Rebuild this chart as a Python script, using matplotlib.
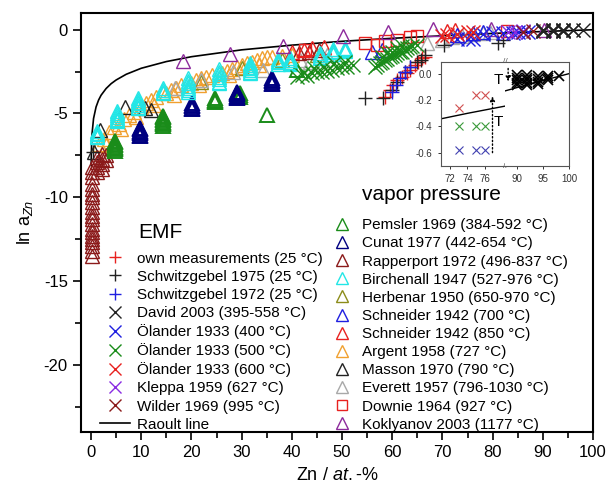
import matplotlib
matplotlib.use('Agg')
import matplotlib.pyplot as plt
from matplotlib.lines import Line2D

plt.rcParams['font.family'] = ['Liberation Sans', 'DejaVu Sans']
plt.rcParams['axes.unicode_minus'] = False
plt.rcParams['mathtext.fontset'] = 'custom'
plt.rcParams['mathtext.rm'] = 'Liberation Sans'
plt.rcParams['mathtext.it'] = 'Liberation Sans:italic'

# ---------------- data ----------------
raoult_x = [0.03, 0.05, 0.1, 0.2, 0.5, 1, 1.5, 2, 3, 4, 5, 7, 10, 15, 20, 30, 40, 50, 60, 70, 80, 90, 100]
raoult_y = [-8.11, -7.60, -6.91, -6.21, -5.30, -4.61, -4.20, -3.91, -3.51, -3.22, -3.00, -2.66, -2.30,
            -1.90, -1.61, -1.20, -0.92, -0.69, -0.51, -0.36, -0.22, -0.105, 0.0]

# EMF
own_x = [58.5, 59.5, 60.2, 61.0, 62.0, 62.9, 63.5, 64.5, 65.2, 65.9, 66.5]
own_y = [-4.0, -3.6, -3.3, -3.0, -2.8, -2.6, -2.4, -2.1, -1.9, -1.7, -1.6]
sch75_x = [0.3, 54.6, 58.2, 60.0, 61.0, 62.5, 63.5, 65.0, 65.7, 66.5, 70.4, 81.0, 82.0]
sch75_y = [-7.3, -4.1, -4.1, -3.6, -3.1, -2.5, -2.2, -1.9, -1.8, -1.5, -0.9, -0.8, -0.6]
sch72_x = [59.9, 60.7, 61.5, 62.5, 63.5]
sch72_y = [-3.7, -3.3, -2.9, -2.5, -2.2]
david_x = [90, 90, 90, 90, 92, 92, 92, 92, 94, 94, 94, 94, 96, 96, 98]
david_y = [-0.10, -0.07, -0.04, -0.01, -0.09, -0.06, -0.03, 0.0, -0.07, -0.05, -0.02, 0.0, -0.04, -0.02, -0.02]
ol400_x = [73, 75, 76, 78, 80, 82, 84, 85, 86, 87]
ol400_y = [-0.58, -0.58, -0.58, -0.25, -0.22, -0.2, -0.18, -0.16, -0.14, -0.12]
ol500_x = [41, 42, 43, 44, 45, 46, 47, 48, 49, 50, 51, 52.2, 42.5, 44.5, 46.5, 48.5, 50.5,
           56.5, 57, 57.5, 58, 58.5, 59, 59.5, 60, 60.5, 61, 61.5, 62, 62.5, 63, 63.5, 64, 65, 58, 59, 60, 61, 62]
ol500_y = [-2.8, -2.7, -2.75, -2.6, -2.55, -2.5, -2.45, -2.4, -2.3, -2.25, -2.2, -2.1, -2.5, -2.3, -2.2, -2.0, -1.9,
           -2.2, -2.1, -2.0, -1.9, -1.8, -1.75, -1.6, -1.55, -1.5, -1.4, -1.35, -1.3, -1.2, -1.1, -1.05, -1.0, -0.9,
           -1.6, -1.4, -1.3, -1.1, -1.0]
ol600_x = [70, 71, 73, 75, 76]
ol600_y = [-0.35, -0.3, -0.26, -0.16, -0.16]
kleppa_x = [83, 84.5, 86]
kleppa_y = [-0.15, -0.12, -0.1]
wilder_x = [86, 88]
wilder_y = [-0.12, -0.1]

# vapor pressure
pemsler_x = [4.8, 4.8, 4.8, 4.8, 4.8, 4.8, 4.8, 4.8, 14.4, 14.4, 14.4, 14.4, 14.4, 14.4, 14.4, 14.4,
             24.7, 24.7, 24.7, 24.7, 29.7, 29.7, 29.7, 35.0, 41.0]
pemsler_y = [-6.65, -6.73, -6.82, -6.9, -6.98, -7.06, -7.15, -7.25, -5.15, -5.23, -5.31, -5.4, -5.48, -5.56, -5.65, -5.75,
             -4.1, -4.17, -4.24, -4.3, -3.8, -3.9, -4.0, -5.1, -2.4]
cunat_x = [9.8, 9.8, 9.8, 9.8, 9.8, 9.8, 9.8, 20.1, 20.1, 20.1, 20.1, 20.1, 29.0, 29.0, 29.0, 29.0, 29.0, 29.0,
           36.0, 36.0, 36.0, 36.0, 36.0]
cunat_y = [-5.85, -5.93, -6.02, -6.1, -6.18, -6.27, -6.35, -4.4, -4.48, -4.57, -4.66, -4.75, -3.7, -3.78, -3.86, -3.94, -4.02, -4.1,
           -2.9, -2.98, -3.07, -3.16, -3.25]
rapp_x = [0.2, 0.2, 0.2, 0.2, 0.2, 0.2, 0.2, 0.2, 0.2, 0.2, 0.2, 0.2, 0.2, 0.2, 0.2, 0.2, 0.2, 0.2, 0.2, 0.2, 0.2,
          1.2, 1.2, 1.2, 1.2, 2.2, 2.2, 2.2, 2.2, 3.0, 3.0, 41.5, 43.5, 45.5]
rapp_y = [-8.2, -8.5, -8.8, -9.2, -9.5, -9.8, -10.0, -10.3, -10.6, -10.9, -11.1, -11.3, -11.6, -11.9, -12.1, -12.3,
          -12.5, -12.7, -12.9, -13.2, -13.5, -7.6, -7.9, -8.2, -8.5, -7.4, -7.7, -8.0, -8.3, -7.5, -7.8, -1.4, -1.3, -1.2]
birch_x = [1.2, 1.2, 1.2, 1.2, 1.2, 5.2, 5.2, 5.2, 5.2, 5.2, 5.2, 5.2, 9.4, 9.4, 9.4, 9.4, 9.4, 9.4, 9.4,
           14.4, 14.4, 14.4, 14.4, 19.4, 19.4, 19.4, 19.4, 19.4, 19.4, 19.4, 25.4, 25.4, 25.4, 25.4, 25.4, 25.4, 25.4,
           31.7, 31.7, 31.7, 31.7, 31.7, 31.7, 31.7, 37.3, 37.3, 37.3, 37.3, 39.6, 39.6, 39.6, 39.6, 39.6,
           45.6, 45.6, 45.6, 45.6, 48.2, 48.2, 48.2, 48.2, 50.6, 50.6, 50.6, 50.6]
birch_y = [-6.05, -6.15, -6.25, -6.35, -6.4, -4.85, -5.0, -5.1, -5.2, -5.3, -5.4, -5.45, -4.1, -4.2, -4.3, -4.4, -4.5, -4.6, -4.7,
           -3.5, -3.6, -3.7, -3.8, -2.9, -3.05, -3.2, -3.35, -3.5, -3.6, -3.7, -2.35, -2.5, -2.65, -2.8, -2.95, -3.1, -3.2,
           -2.0, -2.1, -2.2, -2.3, -2.4, -2.5, -2.6, -1.75, -1.85, -1.95, -2.05, -1.7, -1.8, -1.9, -2.0, -2.05,
           -1.4, -1.5, -1.6, -1.7, -1.15, -1.25, -1.35, -1.45, -1.1, -1.15, -1.2, -1.25]
herb_x = [22, 30, 38, 45]
herb_y = [-3.1, -2.3, -1.8, -1.5]
sch700_x = [56, 58, 73, 76, 78]
sch700_y = [-1.3, -1.2, -0.3, -0.2, -0.15]
sch850_x = [40, 42.5, 44, 46.5, 71, 72.5]
sch850_y = [-1.3, -1.2, -1.1, -1.05, -0.05, 0.0]
argent_x = [1.5, 2.5, 3.5, 4.5, 5.5, 6.5, 7.5, 8.5, 10, 11, 12, 13, 15, 16, 17, 18, 20, 21, 22, 23, 24, 26, 27, 28, 29,
            30, 31, 32, 33, 34, 35, 36, 38, 40, 3.0, 6.0, 9.0, 12.5, 16.5, 21.5, 27.5, 33.5]
argent_y = [-6.8, -6.5, -6.1, -5.8, -5.6, -5.3, -5.1, -4.9, -4.6, -4.4, -4.2, -4.0, -3.8, -3.6, -3.5, -3.3, -3.2, -3.0,
            -2.9, -2.8, -2.7, -2.6, -2.45, -2.35, -2.25, -2.1, -2.0, -1.9, -1.8, -1.7, -1.65, -1.6, -1.55, -1.5,
            -6.9, -5.9, -5.2, -4.5, -3.9, -3.3, -2.7, -2.1]
masson_x = [0.5, 1.8, 6.8, 10.8, 12.0]
masson_y = [-7.3, -6.0, -4.6, -4.7, -4.8]
everett_x = [16.8, 22, 28.3, 34.3, 41.6, 43.6, 47, 67, 70, 72, 74, 76, 78, 79.5]
everett_y = [-3.5, -3.0, -2.5, -2.4, -1.8, -1.9, -1.5, -0.8, -0.6, -0.45, -0.35, -0.25, -0.2, -0.15]
downie_x = [42.6, 54.5, 57, 58.5, 61, 63.5, 65, 82.8]
downie_y = [-1.2, -0.8, -0.9, -0.7, -0.6, -0.45, -0.4, -0.1]
kokl_x = [18.3, 27.7, 38.3, 50.2, 59.2, 68.1, 79.6, 90.3]
kokl_y = [-1.85, -1.45, -1.0, -0.35, -0.15, 0.05, 0.05, 0.0]

# inset data
ins_red_x = [73, 75, 76]
ins_red_y = [-0.26, -0.16, -0.16]
ins_green_x = [73, 75, 76]
ins_green_y = [-0.40, -0.40, -0.40]
ins_blue_x = [73, 75, 76]
ins_blue_y = [-0.58, -0.58, -0.58]
ins_black_x = [90, 90, 90, 90, 90, 92, 92, 92, 92, 92, 94, 94, 94, 94, 96, 96, 96, 98]
ins_black_y = [-0.09, -0.07, -0.05, -0.03, -0.01, -0.09, -0.07, -0.05, -0.03, -0.01, -0.08, -0.06, -0.04, -0.02,
               -0.05, -0.03, -0.02, -0.02]
ins_raoult_lx = [70, 74, 79]
ins_raoult_ly = [-0.357, -0.301, -0.236]
ins_raoult_rx = [87, 93, 100]
ins_raoult_ry = [-0.139, -0.073, 0.0]

emf_labels = ['own measurements (25 °C)', 'Schwitzgebel 1975 (25 °C)', 'Schwitzgebel 1972 (25 °C)',
              'David 2003 (395-558 °C)', 'Ölander 1933 (400 °C)', 'Ölander 1933 (500 °C)',
              'Ölander 1933 (600 °C)', 'Kleppa 1959 (627 °C)', 'Wilder 1969 (995 °C)', 'Raoult line']
vap_labels = ['Pemsler 1969 (384-592 °C)', 'Cunat 1977 (442-654 °C)', 'Rapperport 1972 (496-837 °C)',
              'Birchenall 1947 (527-976 °C)', 'Herbenar 1950 (650-970 °C)', 'Schneider 1942 (700 °C)',
              'Schneider 1942 (850 °C)', 'Argent 1958 (727 °C)', 'Masson 1970 (790 °C)',
              'Everett 1957 (796-1030 °C)', 'Downie 1964 (927 °C)', 'Koklyanov 2003 (1177 °C)']

# ---------------- figure ----------------
C_RED = '#e8211f'
C_BLACK = '#222222'
C_BLUE = '#1f1fe0'
C_GREEN = '#1a8c1a'
C_NAVY = '#000080'
C_DRED = '#8b1a1a'
C_CYAN = '#22e6e6'
C_OLIVE = '#8c8c1a'
C_ORANGE = '#f0a030'
C_GRAY = '#a8a8a8'
C_PURPLE = '#8c2a9c'
C_KLEPPA = '#8a2be2'

fig = plt.figure(figsize=(6.09, 4.93), dpi=100)
ax = fig.add_axes([81/609, 1-431.7/493, (593-81)/609, (431.7-13)/493])

ax.plot(raoult_x, raoult_y, color='black', lw=1.2, zorder=2)

tri = dict(ls='none', marker='^', ms=10, mfc='none', mew=1.0)
ax.plot(argent_x, argent_y, color=C_ORANGE, zorder=3, **tri)
ax.plot(herb_x, herb_y, color=C_OLIVE, zorder=3, **tri)
ax.plot(everett_x, everett_y, color=C_GRAY, zorder=3, **tri)
ax.plot(masson_x, masson_y, color=C_BLACK, zorder=3, **tri)
ax.plot(rapp_x, rapp_y, color=C_DRED, zorder=3, **tri)
ax.plot(sch850_x, sch850_y, color=C_RED, zorder=3, **tri)
ax.plot(sch700_x, sch700_y, color=C_BLUE, zorder=3, **tri)
ax.plot(pemsler_x, pemsler_y, color=C_GREEN, zorder=4, ls='none', marker='^', ms=10, mfc='none', mew=1.4)
ax.plot(cunat_x, cunat_y, color=C_NAVY, zorder=4, ls='none', marker='^', ms=10, mfc='none', mew=1.4)
ax.plot(birch_x, birch_y, color=C_CYAN, zorder=4, **tri)
ax.plot(downie_x, downie_y, color=C_RED, zorder=4, ls='none', marker='s', ms=9, mfc='none', mew=1.0)
ax.plot(kokl_x, kokl_y, color=C_PURPLE, zorder=5, **tri)

crs = dict(ls='none', ms=10, mew=1.0, zorder=5)
ax.plot(ol500_x, ol500_y, color=C_GREEN, marker='x', **crs)
ax.plot(own_x, own_y, color=C_RED, marker='+', **crs)
ax.plot(sch75_x, sch75_y, color=C_BLACK, marker='+', **crs)
ax.plot(sch72_x, sch72_y, color=C_BLUE, marker='+', **crs)
ax.plot(ol400_x, ol400_y, color=C_BLUE, marker='x', **crs)
ax.plot(ol600_x, ol600_y, color=C_RED, marker='x', **crs)
ax.plot(kleppa_x, kleppa_y, color=C_KLEPPA, marker='x', **crs)
ax.plot(wilder_x, wilder_y, color=C_DRED, marker='x', **crs)
ax.plot(david_x, david_y, color=C_BLACK, marker='x', **crs)

ax.set_xlim(-2, 100)
ax.set_ylim(-24, 1)
ax.set_xticks(range(0, 101, 10))
ax.set_xticks(range(5, 100, 10), minor=True)
ax.set_yticks([-20, -15, -10, -5, 0])
ax.set_yticks([-22.5, -17.5, -12.5, -7.5, -2.5], minor=True)
ax.tick_params(which='both', direction='out', labelsize=12, width=1.2, top=False, right=False)
ax.tick_params(which='major', length=6)
ax.tick_params(which='minor', length=4)
for s in ax.spines.values():
    s.set_linewidth(1.5)
ax.set_xlabel('Zn / $\\it{at.}$-%', fontsize=13, labelpad=5)
ax.set_ylabel('ln a$_{Zn}$', fontsize=13, labelpad=6)

# legends
def h(color, marker, ms=8, ls='none', lw=1.0):
    return Line2D([], [], color=color, marker=marker, ls=ls, ms=ms, mfc='none', mew=1.0, lw=lw)

emf_handles = [h(C_RED, '+'), h(C_BLACK, '+'), h(C_BLUE, '+'), h(C_BLACK, 'x'), h(C_BLUE, 'x'),
               h(C_GREEN, 'x'), h(C_RED, 'x'), h(C_KLEPPA, 'x'), h(C_DRED, 'x'),
               Line2D([], [], color='black', lw=1.2)]
vap_handles = [h(C_GREEN, '^'), h(C_NAVY, '^'), h(C_DRED, '^'), h(C_CYAN, '^'), h(C_OLIVE, '^'),
               h(C_BLUE, '^'), h(C_RED, '^'), h(C_ORANGE, '^'), h(C_BLACK, '^'), h(C_GRAY, '^'),
               h(C_RED, 's', ms=7), h(C_PURPLE, '^')]

leg1 = ax.legend(emf_handles, emf_labels, loc='lower left', bbox_to_anchor=(0.037, 0.0),
                 frameon=False, fontsize=11, labelspacing=0.27, handlelength=2.0, handletextpad=0.45,
                 borderpad=0, borderaxespad=0)
ax.add_artist(leg1)
leg2 = ax.legend(vap_handles, vap_labels, loc='lower left', bbox_to_anchor=(0.495, 0.0),
                 frameon=False, fontsize=11, labelspacing=0.27, handlelength=1.0, handletextpad=0.8,
                 borderpad=0, borderaxespad=0)
fig.text(138/609, 1-233/493, 'EMF', fontsize=15, va='center', ha='left')
fig.text(362/609, 1-195/493, 'vapor pressure', fontsize=15, va='center', ha='left')

# inset (broken x axis)
ib = 1-166/493
ih = (166-61.7)/493
axl = fig.add_axes([440.7/609, ib, (505-440.7)/609, ih], zorder=10)
axr = fig.add_axes([505/609, ib, (569.3-505)/609, ih], zorder=10)
icol = '#555555'
for a in (axl, axr):
    a.set_ylim(-0.70, 0.09)
    for s in a.spines.values():
        s.set_color(icol)
        s.set_linewidth(0.8)
    a.tick_params(which='both', direction='out', labelsize=7, colors='#333333', length=2.5, width=0.7)
axl.spines['right'].set_visible(False)
axr.spines['left'].set_visible(False)
axr.tick_params(left=False, labelleft=False)
axl.set_xlim(71, 78.2)
axr.set_xlim(87.7, 100)
axl.set_xticks([72, 74, 76])
axr.set_xticks([90, 95, 100])
axl.set_yticks([0.0, -0.2, -0.4, -0.6])
axl.set_yticklabels(['0.0', '-0.2', '-0.4', '-0.6'])

axl.plot(ins_raoult_lx, ins_raoult_ly, color='black', lw=1.0)
axr.plot(ins_raoult_rx, ins_raoult_ry, color='black', lw=1.0)
ix = dict(ls='none', marker='x', ms=6, mew=0.8)
axl.plot(ins_red_x, ins_red_y, color='#d05050', **ix)
axl.plot(ins_green_x, ins_green_y, color='#3a9a3a', **ix)
axl.plot(ins_blue_x, ins_blue_y, color='#4040b0', **ix)
axr.plot(ins_black_x, ins_black_y, color='black', ls='none', marker='x', ms=7, mew=1.2)

axl.annotate('', xy=(76.8, -0.15), xytext=(76.8, -0.62),
             arrowprops=dict(arrowstyle='-|>', ls=':', color='black', lw=1.0, mutation_scale=7))
axr.annotate('', xy=(88.3, -0.08), xytext=(88.3, 0.06),
             arrowprops=dict(arrowstyle='-|>', ls=':', color='black', lw=1.0, mutation_scale=7))
axl.text(77.5, -0.37, 'T', fontsize=11, ha='center', va='center')
axl.text(77.5, -0.05, 'T', fontsize=11, ha='center', va='center')
# break marks
for yy in (1.0, 0.0):
    axl.text(1.0, yy, '//', transform=axl.transAxes, fontsize=6, ha='center', va='center', color=icol)

fig.savefig('out.png', dpi=100)
